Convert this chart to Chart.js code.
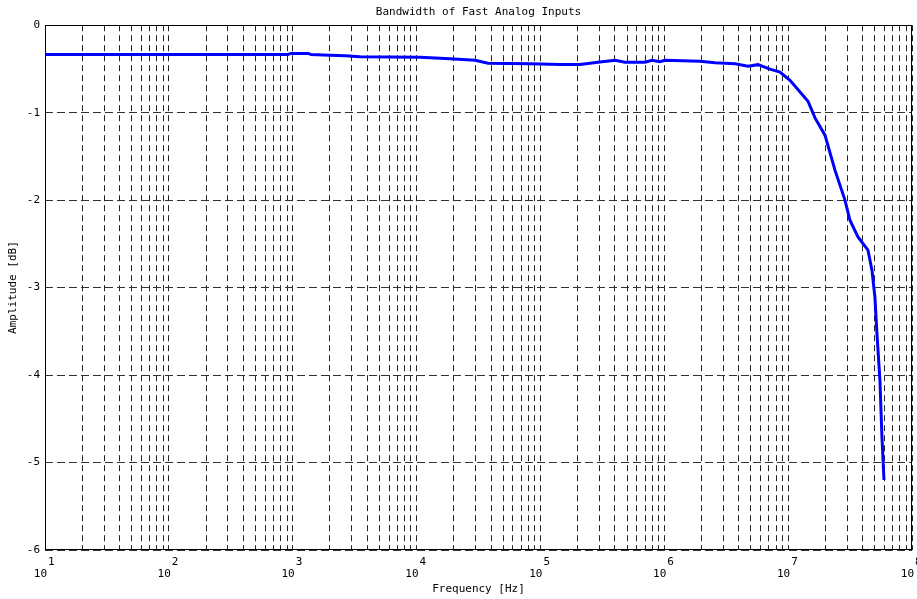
<!DOCTYPE html>
<html>
<head>
<meta charset="utf-8">
<title>Bandwidth of Fast Analog Inputs</title>
<script src="https://cdn.jsdelivr.net/npm/chart.js@4/dist/chart.umd.min.js"></script>
<style>
  html, body { margin: 0; padding: 0; background: #ffffff; }
  #wrap { width: 917px; height: 599px; }
</style>
</head>
<body>
<div id="wrap"><canvas id="chart" width="917" height="599"></canvas></div>
<script>
// Measured frequency response of the fast analog inputs
const frequencyHz = [
  10, 70.5, 452, 916, 968, 1328, 1405, 2000, 2643, 3493,
  10660, 18620, 29640, 37760, 82400, 143900, 208600, 302600, 400000, 481600,
  698800, 795500, 922600, 1.013e6, 1.942e6, 2.566e6, 3.722e6, 4.74e6, 5.71e6, 7.13e6,
  8.59e6, 1.035e7, 1.446e7, 1.648e7, 1.983e7, 2.388e7, 2.875e7, 3.155e7, 3.663e7, 4.41e7,
  4.75e7, 5.02e7, 5.21e7, 5.51e7, 5.72e7, 5.94e7
];
const amplitudeDb = [
  -0.335, -0.335, -0.335, -0.335, -0.323, -0.323, -0.335, -0.343, -0.349, -0.36,
  -0.366, -0.383, -0.40, -0.434, -0.44, -0.45, -0.45, -0.42, -0.40, -0.423,
  -0.423, -0.40, -0.417, -0.40, -0.411, -0.429, -0.44, -0.469, -0.451, -0.503,
  -0.537, -0.629, -0.869, -1.06, -1.257, -1.657, -2.0, -2.23, -2.42, -2.571,
  -2.8, -3.11, -3.52, -4.06, -4.71, -5.2
];

// Axis ranges and labelled decades
const decadeExponents = [1, 2, 3, 4, 5, 6, 7, 8];
const minorMultipliers = [1, 2, 3, 4, 5, 6, 7, 8, 9];
const amplitudeRange = [-6, 0];

const FONT = '"DejaVu Sans Mono", "Liberation Mono", monospace';

// Grid positions for the log axis: 1..9 x each decade, plus the last decade
const xGridValues = [];
for (let i = 0; i < decadeExponents.length - 1; i++) {
  for (const m of minorMultipliers) xGridValues.push(m * Math.pow(10, decadeExponents[i]));
}
xGridValues.push(Math.pow(10, decadeExponents[decadeExponents.length - 1]));

const points = frequencyHz.map((f, i) => ({ x: f, y: amplitudeDb[i] }));

// Frame around the plot plus "10^n" labels under the x axis
const decorations = {
  id: 'decorations',
  afterDraw(chart) {
    const { ctx, chartArea: a, scales } = chart;
    ctx.save();
    ctx.strokeStyle = '#000000';
    ctx.lineWidth = 1;
    ctx.setLineDash([]);
    const l = Math.round(a.left) + 0.5, r = Math.round(a.right) - 0.5;
    const t = Math.round(a.top) + 0.5, b = Math.round(a.bottom) - 0.5;
    ctx.strokeRect(l, t, r - l, b - t);

    ctx.fillStyle = '#000000';
    ctx.font = '11px ' + FONT;
    ctx.textBaseline = 'alphabetic';
    for (const n of decadeExponents) {
      const x = scales.x.getPixelForValue(Math.pow(10, n));
      ctx.textAlign = 'right';
      ctx.fillText('10', x + 2, 577);
      ctx.textAlign = 'left';
      ctx.fillText(String(n), x + 3, 565);
    }
    ctx.restore();
  }
};

new Chart(document.getElementById('chart'), {
  type: 'line',
  data: {
    datasets: [{
      data: points,
      borderColor: '#0000ff',
      borderWidth: 3,
      pointRadius: 0,
      tension: 0,
      fill: false
    }]
  },
  options: {
    responsive: false,
    animation: false,
    layout: { padding: { left: 0, right: 5, top: 0, bottom: 0 } },
    plugins: {
      legend: { display: false },
      tooltip: { enabled: false },
      title: {
        display: true,
        fullSize: false,
        text: 'Bandwidth of Fast Analog Inputs',
        color: '#000000',
        font: { family: FONT, size: 11, weight: 'normal' },
        padding: { top: 6, bottom: 6 }
      }
    },
    scales: {
      x: {
        type: 'logarithmic',
        min: Math.pow(10, decadeExponents[0]),
        max: Math.pow(10, decadeExponents[decadeExponents.length - 1]),
        afterBuildTicks(scale) {
          scale.ticks = xGridValues.map(v => ({ value: v }));
        },
        afterFit(scale) { scale.height = 49; },
        ticks: { display: false },
        grid: { color: '#222222', lineWidth: 1, drawTicks: false },
        border: { display: false, dash: [6, 4] },
        title: {
          display: true,
          text: 'Frequency [Hz]',
          color: '#000000',
          font: { family: FONT, size: 11 },
          padding: { top: 0, bottom: 3 }
        }
      },
      y: {
        type: 'linear',
        min: amplitudeRange[0],
        max: amplitudeRange[1],
        afterFit(scale) { scale.width = 45; },
        ticks: {
          stepSize: 1,
          color: '#000000',
          padding: 5,
          font: { family: FONT, size: 11 }
        },
        grid: { color: '#333333', lineWidth: 1, drawTicks: false },
        border: { display: false, dash: [8, 4] },
        title: {
          display: true,
          text: 'Amplitude [dB]',
          color: '#000000',
          font: { family: FONT, size: 11 },
          padding: { top: 7, bottom: 0 }
        }
      }
    }
  },
  plugins: [decorations]
});
</script>
</body>
</html>
